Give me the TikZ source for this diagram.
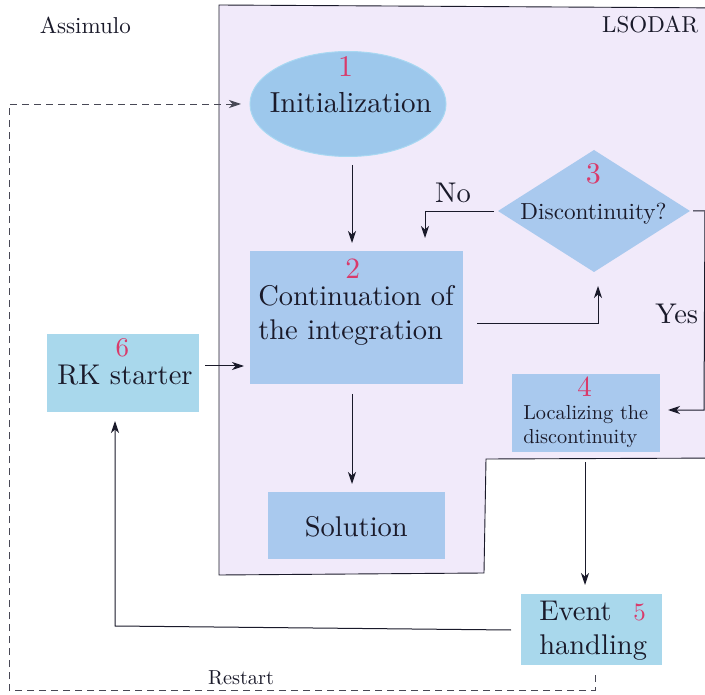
\documentclass[tikz,border=0pt]{standalone}
\usepackage{fontspec}
\setmainfont{lmroman10-regular}[Extension=.otf]
\usetikzlibrary{shapes.geometric,arrows.meta}
\definecolor{lav}{HTML}{F1EAFA}
\definecolor{ellfill}{HTML}{9DC8EC}
\definecolor{ellline}{HTML}{A8D8F2}
\definecolor{bluebox}{HTML}{A9C9EE}
\definecolor{cyanbox}{HTML}{A9D8EC}
\definecolor{numcol}{HTML}{D93A6B}
\definecolor{ink}{HTML}{1A1A2A}
\tikzset{
  every node/.style={inner sep=0pt, outer sep=0pt, text=ink},
  bigtxt/.style={font=\fontsize{28.5}{34}\selectfont, anchor=base},
  midtxt/.style={font=\fontsize{23.2}{27}\selectfont, anchor=base},
  smalltxt/.style={font=\fontsize{20.3}{25}\selectfont, anchor=base west},
  labtxt/.style={font=\fontsize{23}{26}\selectfont, anchor=base},
  numtxt/.style={font=\fontsize{#1}{32}\selectfont, text=numcol, anchor=base},
  bbox/.style={rectangle, fill=bluebox},
  cbox/.style={rectangle, fill=cyanbox},
  conn/.style={draw=ink, line width=1pt, -{Stealth[length=12pt,width=8pt,inset=3.5pt]}},
  dconn/.style={draw=ink!80, line width=0.9pt, dash pattern=on 7pt off 5pt, -{Stealth[length=12pt,width=8pt,inset=3.5pt]}},
}
\begin{document}
\begin{tikzpicture}[x=1pt,y=-1pt]
\clip (0,0) rectangle (705,695);
\fill[white] (0,0) rectangle (705,695);
% LSODAR region
\draw[fill=lav, draw=ink, line width=0.9pt] (219,5) -- (730,8) -- (730,458) -- (486,459) -- (484,573) -- (219,575) -- cycle;
\node[labtxt] (lsodar) at (650.3,32.3) {LSODAR};
\node[labtxt] (assimulo) at (85.3,33.3) {Assimulo};
% nodes
\node[ellipse, fill=ellfill, draw=ellline, line width=1pt, minimum width=196pt, minimum height=105pt] (init) at (348,104) {};
\node[numtxt=30] (n1) at (345.7,76.7) {1};
\node[bigtxt, font=\fontsize{29}{34}\selectfont] (t1) at (350.8,112.3) {Initialization};

\node[bbox, minimum width=213pt, minimum height=133pt] (cont) at (356.5,317.5) {};
\node[numtxt=29.5] (n2) at (352.8,279) {2};
\node[bigtxt, anchor=base west] (t2a) at (258.3,305.7) {Continuation of};
\node[bigtxt, anchor=base west] (t2b) at (258.3,339.3) {the integration};

\node[diamond, fill=bluebox, minimum width=192pt, minimum height=122pt] (disc) at (594,211) {};
\node[numtxt=30] (n3) at (593.3,183.3) {3};
\node[midtxt] (t3) at (593.5,219.5) {Discontinuity?};

\node[bbox, minimum width=148pt, minimum height=78pt] (loc) at (586,413) {};
\node[numtxt=29] (n4) at (584.5,396.7) {4};
\node[smalltxt] (t4a) at (523.3,420) {Localizing the};
\node[smalltxt] (t4b) at (523.3,443.3) {discontinuity};

\node[bbox, minimum width=177pt, minimum height=67pt] (sol) at (356.5,525.5) {};
\node[bigtxt] (t7) at (356.3,536.7) {Solution};

\node[cbox, minimum width=152pt, minimum height=78pt] (rk) at (123,373) {};
\node[numtxt=27] (n6) at (122.3,357) {6};
\node[bigtxt] (t6) at (125,384.5) {RK starter};

\node[cbox, minimum width=141pt, minimum height=71pt] (ev) at (591.5,629.5) {};
\node[bigtxt, anchor=base west] (t5a) at (539.3,620.7) {Event};
\node[bigtxt, anchor=base west] (t5b) at (539.3,654) {handling};
\node[numtxt=25] (n5) at (639.5,620.7) {5};

% connectors
\coordinate (a1s) at (352,165);
\coordinate (a1e) at (352,243);
\draw[conn] (a1s) -- (a1e);

\coordinate (nos) at (494,212);
\coordinate (noe) at (425,238);
\draw[conn] (nos) -- (425,212) -- (noe);
\node[bigtxt] (no) at (453,202.7) {No};

\coordinate (b2s) at (477,324);
\coordinate (b2e) at (598,286);
\draw[conn] (b2s) -- (598,324) -- (b2e);

\coordinate (ys) at (693,211);
\coordinate (ye) at (668,410);
\draw[conn] (ys) -- (705,211) -- (704,410) -- (ye);
\node[bigtxt] (yes) at (676.7,323.3) {Yes};

\coordinate (ss) at (352,394);
\coordinate (se) at (352,484);
\draw[conn] (ss) -- (se);

\coordinate (rks) at (205,366);
\coordinate (rke) at (244,366);
\draw[conn] (rks) -- (rke);

\coordinate (ls) at (585,462);
\coordinate (le) at (585,585);
\draw[conn] (ls) -- (le);

\coordinate (evs) at (511,630);
\coordinate (eve) at (115,421);
\draw[conn] (evs) -- (115,626) -- (eve);

\coordinate (rs) at (595,675);
\coordinate (re) at (241,104);
\draw[dconn] (rs) -- (595,690) -- (9,690) -- (9,104) -- (re);
\node[font=\fontsize{20.3}{24}\selectfont, anchor=base] (restart) at (241,684) {Restart};
\end{tikzpicture}
\end{document}
